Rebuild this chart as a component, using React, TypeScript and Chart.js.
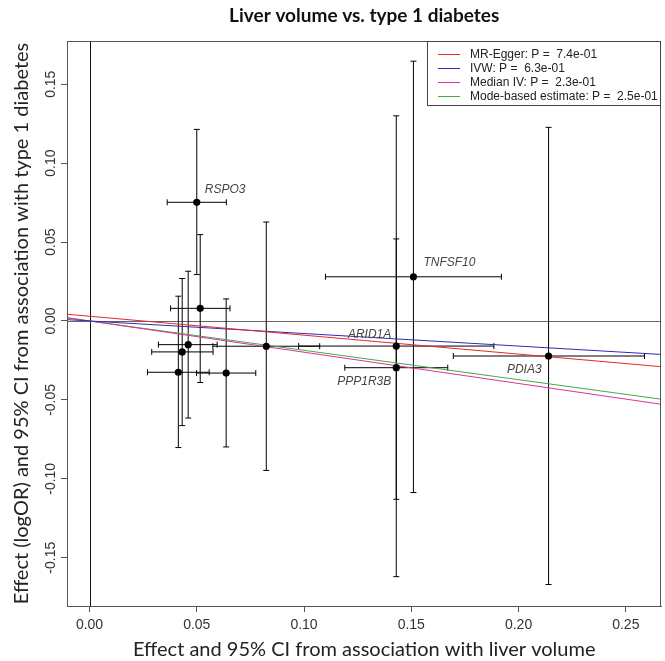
import React, { useEffect, useRef } from "react";
import { Chart, registerables } from "chart.js";

Chart.register(...registerables);

// ---- data ----
const snpGenes = ["RSPO3", "", "", "", "", "", "", "ARID1A", "PPP1R3B", "TNFSF10", "PDIA3"];
const snpX = [0.05, 0.0516, 0.046, 0.0432, 0.0414, 0.0637, 0.0824, 0.143, 0.143, 0.151, 0.214];
const snpXLo = [0.0362, 0.0378, 0.0321, 0.029, 0.027, 0.0499, 0.0575, 0.0975, 0.119, 0.11, 0.1696];
const snpXHi = [0.0638, 0.0655, 0.0595, 0.0576, 0.0558, 0.0775, 0.1073, 0.1885, 0.167, 0.192, 0.2587];
const snpY = [0.0752, 0.008, -0.015, -0.0196, -0.0325, -0.033, -0.016, -0.0159, -0.0296, 0.028, -0.0222];
const snpYLo = [0.0294, -0.039, -0.0615, -0.0663, -0.0802, -0.0798, -0.0947, -0.162, -0.113, -0.1087, -0.167];
const snpYHi = [0.1214, 0.0547, 0.0315, 0.0269, 0.0157, 0.014, 0.0627, 0.13, 0.052, 0.1646, 0.1227];

const methodNames = ["MR-Egger", "IVW", "Median IV", "Mode-based estimate"];
const methodP = ["7.4e-01", "6.3e-01", "2.3e-01", "2.5e-01"];
const methodIntercept = [0.003, 0, 0, 0];
const methodSlope = [-0.12, -0.0796, -0.198, -0.186];

const xTicks = [0, 0.05, 0.1, 0.15, 0.2, 0.25];
const yTicks = [-0.15, -0.1, -0.05, 0, 0.05, 0.1, 0.15];
const xRange = [-0.0105, 0.2666];
const yRange = [-0.1806, 0.1774];

const chartTitle = "Liver volume vs. type 1 diabetes";
const xTitle = "Effect and 95% CI from association with liver volume";
const yTitle = "Effect (logOR) and 95% CI from association with type 1 diabetes";

// ---- styles ----
const methodColors = ["#e52a2a", "#2c2cb4", "#e0309a", "#44aa44"];
// label placement: dx, dy (px) and alignment
const labelPlace: Record<string, [number, number, CanvasTextAlign]> = {
  RSPO3: [8, -13, "left"],
  ARID1A: [-5, -11, "right"],
  PPP1R3B: [-5, 14, "right"],
  TNFSF10: [10, -14, "left"],
  PDIA3: [-7, 14, "right"],
};

const mrPlugin = {
  id: "mrPlugin",
  beforeDatasetsDraw(chart: any) {
    const { ctx, chartArea: a, scales } = chart;
    const xs = scales.x;
    const ys = scales.y;
    ctx.save();
    ctx.beginPath();
    ctx.rect(a.left, a.top, a.right - a.left, a.bottom - a.top);
    ctx.clip();
    ctx.lineWidth = 1;
    // reference lines
    const x0 = Math.round(xs.getPixelForValue(0)) + 0.5;
    const y0 = Math.round(ys.getPixelForValue(0)) + 0.5;
    ctx.strokeStyle = "#666";
    ctx.beginPath();
    ctx.moveTo(a.left, y0);
    ctx.lineTo(a.right, y0);
    ctx.stroke();
    ctx.strokeStyle = "#111";
    ctx.beginPath();
    ctx.moveTo(x0, a.top);
    ctx.lineTo(x0, a.bottom);
    ctx.stroke();
    // error bars
    const cap = 3;
    ctx.strokeStyle = "#000";
    for (let i = 0; i < snpX.length; i++) {
      const px = xs.getPixelForValue(snpX[i]);
      const py = ys.getPixelForValue(snpY[i]);
      const pxl = xs.getPixelForValue(snpXLo[i]);
      const pxh = xs.getPixelForValue(snpXHi[i]);
      const pyl = ys.getPixelForValue(snpYLo[i]);
      const pyh = ys.getPixelForValue(snpYHi[i]);
      ctx.beginPath();
      ctx.moveTo(pxl, py);
      ctx.lineTo(pxh, py);
      ctx.moveTo(pxl, py - cap);
      ctx.lineTo(pxl, py + cap);
      ctx.moveTo(pxh, py - cap);
      ctx.lineTo(pxh, py + cap);
      ctx.moveTo(px, pyl);
      ctx.lineTo(px, pyh);
      ctx.moveTo(px - cap, pyl);
      ctx.lineTo(px + cap, pyl);
      ctx.moveTo(px - cap, pyh);
      ctx.lineTo(px + cap, pyh);
      ctx.stroke();
    }
    ctx.restore();
  },
  afterDraw(chart: any) {
    const { ctx, chartArea: a, scales } = chart;
    const xs = scales.x;
    const ys = scales.y;
    ctx.save();
    // plot box
    ctx.strokeStyle = "#555";
    ctx.lineWidth = 1;
    ctx.strokeRect(Math.round(a.left) + 0.5, Math.round(a.top) + 0.5, Math.round(a.right - a.left) - 1, Math.round(a.bottom - a.top));

    // gene labels
    ctx.font = "italic 12px 'Liberation Sans', Arial, sans-serif";
    ctx.fillStyle = "#444";
    ctx.textBaseline = "middle";
    for (let i = 0; i < snpGenes.length; i++) {
      const g = snpGenes[i];
      if (!g) continue;
      const pl = labelPlace[g];
      const px = xs.getPixelForValue(snpX[i]);
      const py = ys.getPixelForValue(snpY[i]);
      ctx.textAlign = pl[2];
      ctx.fillText(g, px + pl[0], py + pl[1]);
    }

    // legend
    const lx0 = 427.5;
    const ly0 = Math.round(a.top) + 0.5;
    const lx1 = Math.round(a.right) - 0.5;
    const ly1 = 105.5;
    ctx.fillStyle = "#fff";
    ctx.fillRect(lx0, ly0, lx1 - lx0, ly1 - ly0);
    ctx.strokeStyle = "#444";
    ctx.strokeRect(lx0, ly0, lx1 - lx0, ly1 - ly0);
    ctx.font = "12px 'Liberation Sans', Arial, sans-serif";
    ctx.textAlign = "left";
    ctx.textBaseline = "middle";
    for (let i = 0; i < methodNames.length; i++) {
      const yy = 54.5 + i * 14;
      ctx.strokeStyle = methodColors[i];
      ctx.beginPath();
      ctx.moveTo(438, yy);
      ctx.lineTo(460, yy);
      ctx.stroke();
      ctx.fillStyle = "#222";
      ctx.fillText(`${methodNames[i]}: P =  ${methodP[i]}`, 470, yy + 0.5);
    }

    // y tick labels (rotated, R style)
    ctx.font = "14px 'Liberation Sans', Arial, sans-serif";
    ctx.fillStyle = "#333";
    ctx.textAlign = "center";
    ctx.textBaseline = "middle";
    for (const v of yTicks) {
      const py = ys.getPixelForValue(v);
      ctx.save();
      ctx.translate(51, py);
      ctx.rotate(-Math.PI / 2);
      ctx.fillText(v.toFixed(2), 0, 0);
      ctx.restore();
    }

    // titles
    const cx = (a.left + a.right) / 2;
    const cy = (a.top + a.bottom) / 2;
    ctx.fillStyle = "#111";
    ctx.font = "bold 19px Lato, 'Open Sans', sans-serif";
    ctx.fillText(chartTitle, cx, 16);
    ctx.font = "20px Lato, 'Open Sans', sans-serif";
    ctx.fillStyle = "#222";
    ctx.fillText(xTitle, cx, 650);
    ctx.save();
    ctx.translate(22, cy);
    ctx.rotate(-Math.PI / 2);
    ctx.fillText(yTitle, 0, 0);
    ctx.restore();
    ctx.restore();
  },
};

export default function App() {
  const ref = useRef<HTMLCanvasElement | null>(null);
  useEffect(() => {
    document.body.style.margin = "0";
    const canvas = ref.current;
    if (!canvas) return;
    const lineSets = methodNames.map((n, i) => ({
      type: "line" as const,
      label: n,
      data: xRange.map((xv) => ({ x: xv, y: methodIntercept[i] + methodSlope[i] * xv })),
      borderColor: methodColors[i],
      backgroundColor: methodColors[i],
      borderWidth: 1,
      pointRadius: 0,
      fill: false,
      tension: 0,
      order: 2,
    }));
    const chart = new Chart(canvas, {
      type: "scatter",
      data: {
        datasets: [
          ...lineSets,
          {
            type: "scatter" as const,
            label: "SNPs",
            data: snpX.map((xv, i) => ({ x: xv, y: snpY[i] })),
            pointRadius: 3.6,
            pointHoverRadius: 3.6,
            backgroundColor: "#000",
            borderColor: "#000",
            borderWidth: 0,
            order: 1,
          },
        ],
      } as any,
      options: {
        animation: false,
        responsive: false,
        devicePixelRatio: 1,
        events: [],
        layout: { padding: { top: 41, right: 2, left: 0, bottom: 0 } },
        plugins: {
          legend: { display: false },
          tooltip: { enabled: false },
          title: { display: false },
        },
        scales: {
          x: {
            type: "linear",
            min: xRange[0],
            max: xRange[1],
            afterBuildTicks: (s: any) => {
              s.ticks = xTicks.map((v) => ({ value: v }));
            },
            afterFit: (s: any) => {
              s.height = 55;
            },
            grid: { display: true, drawOnChartArea: false, drawTicks: true, tickLength: 6, color: "#555" },
            border: { display: true, color: "#555" },
            ticks: {
              font: { family: "'Liberation Sans', Arial, sans-serif", size: 14 },
              color: "#333",
              padding: 5,
              maxRotation: 0,
              minRotation: 0,
              callback: (v: any) => Number(v).toFixed(2),
            },
          },
          y: {
            type: "linear",
            min: yRange[0],
            max: yRange[1],
            afterBuildTicks: (s: any) => {
              s.ticks = yTicks.map((v) => ({ value: v }));
            },
            afterFit: (s: any) => {
              s.width = 67;
            },
            grid: { display: true, drawOnChartArea: false, drawTicks: true, tickLength: 6, color: "#555" },
            border: { display: true, color: "#555" },
            ticks: {
              color: "rgba(0,0,0,0)",
              font: { size: 14 },
              callback: (v: any) => Number(v).toFixed(2),
            },
          },
        },
      } as any,
      plugins: [mrPlugin],
    });
    return () => chart.destroy();
  }, []);
  return (
    <canvas ref={ref} width={665} height={661} style={{ display: "block", width: 665, height: 661 }} />
  );
}
